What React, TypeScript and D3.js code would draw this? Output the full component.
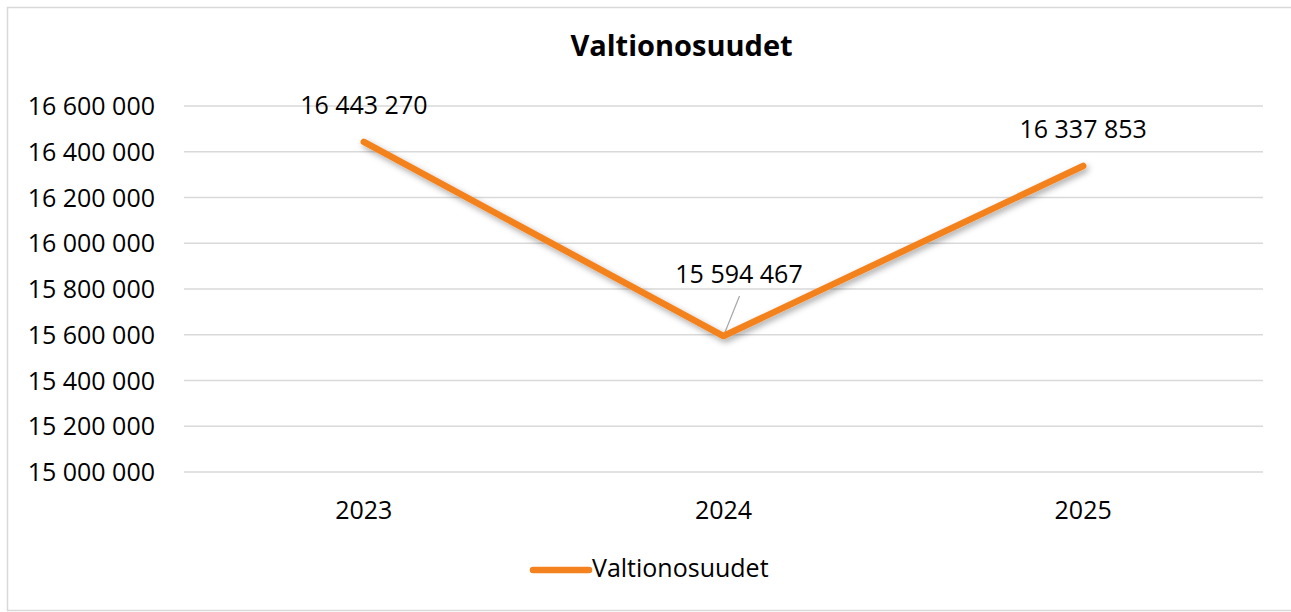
import React, { useEffect, useRef } from 'react';
import * as d3 from 'd3';

const width = 1291;
const height = 612;
const plot = { left: 184, right: 1263, top: 106, bottom: 472 };

const title = 'Valtionosuudet';
const seriesName = 'Valtionosuudet';
const years = ['2023', '2024', '2025'];
const values = [16443270, 15594467, 16337853];
const yTicks = [15000000, 15200000, 15400000, 15600000, 15800000, 16000000, 16200000, 16400000, 16600000];

const orange = '#F4821F';
const grid = '#d9d9d9';
const font = '"Open Sans", sans-serif';

// Excel-style thousands with spaces
const fmt = (v: number) => d3.format(',')(v).replace(/,/g, ' ');

const App = () => {
  const svgRef = useRef<SVGSVGElement>(null);

  useEffect(() => {
    const svg = d3.select(svgRef.current);
    svg.selectAll('*').remove();

    const defs = svg.append('defs');
    const filter = defs.append('filter')
      .attr('id', 'shadow')
      .attr('x', '-10%').attr('y', '-20%')
      .attr('width', '120%').attr('height', '140%');
    filter.append('feDropShadow')
      .attr('dx', 2).attr('dy', 3)
      .attr('stdDeviation', 3)
      .attr('flood-color', '#000')
      .attr('flood-opacity', 0.35);

    // chart area border
    svg.append('rect')
      .attr('x', 7.5).attr('y', 7.5)
      .attr('width', 1290).attr('height', 603)
      .attr('fill', '#fff')
      .attr('stroke', grid)
      .attr('stroke-width', 1.5);

    svg.append('text')
      .attr('x', 681.5).attr('y', 56)
      .attr('text-anchor', 'middle')
      .attr('font-family', font)
      .attr('font-weight', 'bold')
      .attr('font-size', 29)
      .text(title);

    const x = d3.scalePoint<string>()
      .domain(years)
      .range([plot.left, plot.right])
      .padding(0.5);

    const y = d3.scaleLinear()
      .domain([15000000, 16600000])
      .range([plot.bottom, plot.top]);

    // gridlines + y labels
    svg.append('g')
      .selectAll('line')
      .data(yTicks)
      .enter().append('line')
      .attr('x1', plot.left).attr('x2', plot.right)
      .attr('y1', d => y(d)).attr('y2', d => y(d))
      .attr('stroke', grid)
      .attr('stroke-width', 1.5);

    svg.append('g')
      .selectAll('text')
      .data(yTicks)
      .enter().append('text')
      .attr('x', 155)
      .attr('y', d => y(d) + 9)
      .attr('text-anchor', 'end')
      .attr('font-family', font)
      .attr('font-size', 25)
      .text(d => fmt(d));

    svg.append('g')
      .selectAll('text')
      .data(years)
      .enter().append('text')
      .attr('x', d => x(d)!)
      .attr('y', 519)
      .attr('text-anchor', 'middle')
      .attr('font-family', font)
      .attr('font-size', 25)
      .text(d => d);

    const pts = years.map((yr, i) => ({ yr, v: values[i] }));

    const line = d3.line<{ yr: string; v: number }>()
      .x(d => x(d.yr)!)
      .y(d => y(d.v));

    // leader line for the 2024 label (moved off the point in the original)
    const low = pts[1];
    svg.append('line')
      .attr('x1', x(low.yr)!).attr('y1', y(low.v))
      .attr('x2', x(low.yr)! + 16).attr('y2', y(low.v) - 40)
      .attr('stroke', '#a6a6a6')
      .attr('stroke-width', 1.2);

    svg.append('path')
      .datum(pts)
      .attr('fill', 'none')
      .attr('stroke', orange)
      .attr('stroke-width', 6.5)
      .attr('stroke-linecap', 'round')
      .attr('stroke-linejoin', 'round')
      .attr('filter', 'url(#shadow)')
      .attr('d', line);

    svg.append('g')
      .selectAll('text')
      .data(pts)
      .enter().append('text')
      .attr('x', (d, i) => x(d.yr)! + (i === 1 ? 15.5 : 0))
      .attr('y', (d, i) => y(d.v) - (i === 1 ? 53 : 27.5))
      .attr('text-anchor', 'middle')
      .attr('font-family', font)
      .attr('font-size', 25)
      .text(d => fmt(d.v));

    // legend
    svg.append('line')
      .attr('x1', 533).attr('x2', 589)
      .attr('y1', 570).attr('y2', 570)
      .attr('stroke', orange)
      .attr('stroke-width', 6.5)
      .attr('stroke-linecap', 'round');

    svg.append('text')
      .attr('x', 592).attr('y', 577)
      .attr('font-family', font)
      .attr('font-size', 25)
      .text(seriesName);
  }, []);

  return (
    <svg
      ref={svgRef}
      width={width}
      height={height}
      style={{ position: 'absolute', left: 0, top: 0 }}
    ></svg>
  );
};

export default App;
